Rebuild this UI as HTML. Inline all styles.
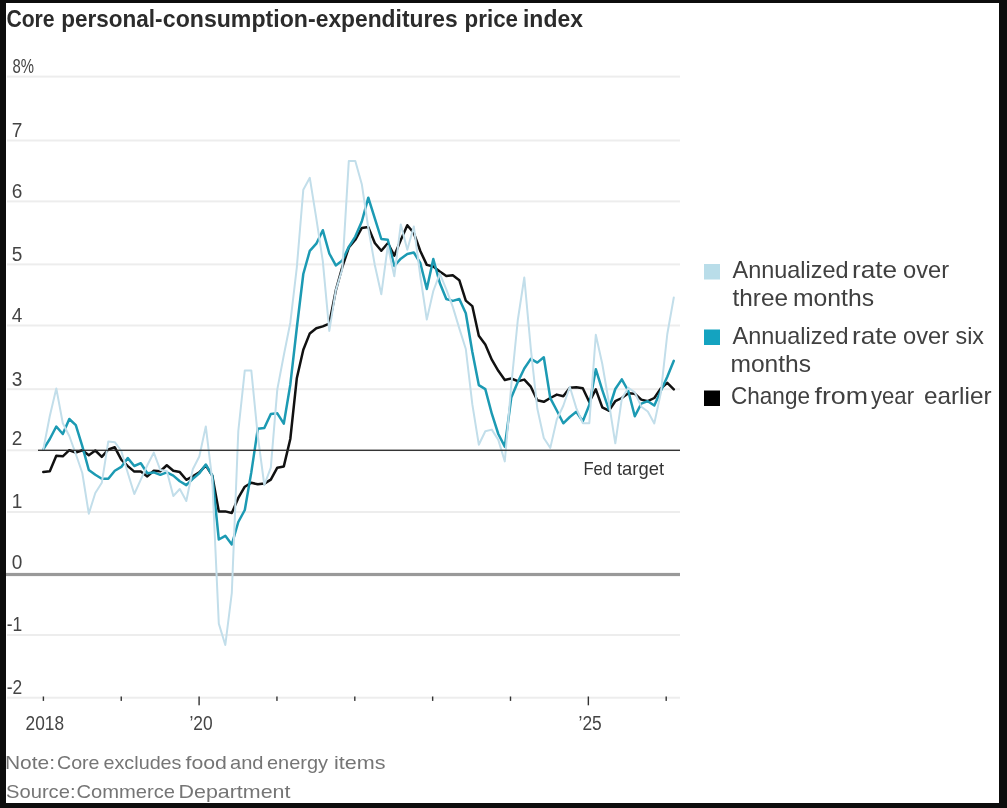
<!DOCTYPE html>
<html lang="en"><head><meta charset="utf-8"><title>Core personal-consumption-expenditures price index</title>
<style>html,body{margin:0;padding:0;background:#0d0d0d;}body{width:1007px;height:808px;overflow:hidden;position:relative;}svg{position:absolute;left:0;top:0;display:block;}text{font-family:"Liberation Sans",sans-serif;}.t{font-weight:bold;font-size:24px;fill:#2b2b2b;}.ax{font-size:20.3px;fill:#444;}.lg{font-size:24px;fill:#404040;}.nt{font-size:19px;fill:#757575;}.fd{font-size:19px;fill:#333;}</style></head><body>
<svg width="1007" height="808" viewBox="0 0 1007 808">
<rect x="0" y="0" width="1007" height="808" fill="#0d0d0d"/>
<rect x="6" y="3" width="993" height="800" fill="#ffffff"/>
<text class="t" y="26.5"><tspan x="6.4" textLength="48.2" lengthAdjust="spacingAndGlyphs">Core</tspan> <tspan x="61.3" textLength="101.3" lengthAdjust="spacingAndGlyphs">personal-</tspan><tspan x="162.8" textLength="152.8" lengthAdjust="spacingAndGlyphs">consumption-</tspan><tspan x="315.7" textLength="142" lengthAdjust="spacingAndGlyphs">expenditures</tspan> <tspan x="464.6" textLength="53.4" lengthAdjust="spacingAndGlyphs">price</tspan> <tspan x="523.0" textLength="59.9" lengthAdjust="spacingAndGlyphs">index</tspan></text>
<rect x="7" y="75.6" width="673" height="2" fill="#ededed"/>
<rect x="7" y="139.5" width="673" height="2" fill="#ededed"/>
<rect x="7" y="200.4" width="673" height="2" fill="#ededed"/>
<rect x="7" y="263.4" width="673" height="2" fill="#ededed"/>
<rect x="7" y="324.5" width="673" height="2" fill="#ededed"/>
<rect x="7" y="388.2" width="673" height="2" fill="#ededed"/>
<rect x="7" y="449.3" width="673" height="2" fill="#ededed"/>
<rect x="7" y="511.0" width="673" height="2" fill="#ededed"/>
<rect x="7" y="634.0" width="673" height="2" fill="#ededed"/>
<rect x="7" y="696.7" width="673" height="2" fill="#ededed"/>
<rect x="6" y="572.9" width="674" height="3.2" fill="#999999"/>
<text class="ax" x="12.4" y="72.9" textLength="21.5" lengthAdjust="spacingAndGlyphs">8%</text>
<text class="ax" x="11.8" y="136.8" textLength="10.6" lengthAdjust="spacingAndGlyphs">7</text>
<text class="ax" x="11.8" y="197.7" textLength="10.6" lengthAdjust="spacingAndGlyphs">6</text>
<text class="ax" x="11.8" y="260.7" textLength="10.6" lengthAdjust="spacingAndGlyphs">5</text>
<text class="ax" x="11.8" y="321.8" textLength="10.6" lengthAdjust="spacingAndGlyphs">4</text>
<text class="ax" x="11.8" y="385.5" textLength="10.6" lengthAdjust="spacingAndGlyphs">3</text>
<text class="ax" x="11.8" y="444.7" textLength="10.6" lengthAdjust="spacingAndGlyphs">2</text>
<text class="ax" x="11.8" y="508.3" textLength="10.6" lengthAdjust="spacingAndGlyphs">1</text>
<text class="ax" x="11.8" y="569.3" textLength="10.6" lengthAdjust="spacingAndGlyphs">0</text>
<text class="ax" x="6.8" y="631.3" textLength="15.5" lengthAdjust="spacingAndGlyphs">-1</text>
<text class="ax" x="6.8" y="694.0" textLength="15.5" lengthAdjust="spacingAndGlyphs">-2</text>
<rect x="42.70" y="696.5" width="1.4" height="4.4" fill="#333"/>
<rect x="120.55" y="696.5" width="1.4" height="4.4" fill="#333"/>
<rect x="198.40" y="696.5" width="1.4" height="8.8" fill="#333"/>
<rect x="276.25" y="696.5" width="1.4" height="4.4" fill="#333"/>
<rect x="354.10" y="696.5" width="1.4" height="4.4" fill="#333"/>
<rect x="431.95" y="696.5" width="1.4" height="4.4" fill="#333"/>
<rect x="509.80" y="696.5" width="1.4" height="4.4" fill="#333"/>
<rect x="587.65" y="696.5" width="1.4" height="8.8" fill="#333"/>
<rect x="665.50" y="696.5" width="1.4" height="4.4" fill="#333"/>
<polyline fill="none" stroke="#111111" stroke-width="2.5" stroke-linejoin="round" stroke-linecap="round" points="43.3,472.1 49.8,471.2 56.3,455.7 62.8,456.3 69.3,450.2 75.8,452.5 82.3,450.2 88.8,455.3 95.3,450.5 101.8,456.8 108.3,449.5 114.8,447.3 121.3,459.7 127.8,466.1 134.3,471.6 140.8,471.6 147.3,476.4 153.8,470.8 160.3,471.2 166.8,465.3 173.3,470.8 179.8,472.1 186.3,479.8 192.8,476.4 199.3,472.4 205.8,465.3 212.3,475.6 218.8,511.4 225.3,511.4 231.8,513.0 238.3,497.9 244.8,486.7 251.3,482.8 257.8,484.3 264.3,483.6 270.8,479.6 277.3,467.7 283.8,466.4 290.3,439.0 296.8,378.3 303.3,349.8 309.8,333.4 316.3,328.2 322.8,326.4 329.3,323.6 335.8,290.4 342.3,267.0 348.8,247.5 355.3,239.8 361.8,227.9 368.3,227.1 374.8,243.0 381.3,250.8 387.8,243.2 394.3,255.7 400.8,240.0 407.3,225.2 413.8,233.0 420.3,251.0 426.8,264.9 433.3,266.5 439.8,271.4 446.3,276.0 452.8,275.3 459.3,280.2 465.8,300.6 472.3,306.1 478.8,335.7 485.3,344.6 491.8,359.7 498.3,370.8 504.8,380.0 511.3,378.5 517.8,381.2 524.3,379.6 530.8,386.7 537.3,400.2 543.8,401.8 550.3,398.0 556.8,394.6 563.3,396.2 569.8,387.8 576.3,387.2 582.8,388.3 589.3,402.0 595.8,389.4 602.3,407.4 608.8,410.7 615.3,401.2 621.8,398.0 628.3,393.2 634.8,393.7 641.3,399.6 647.8,401.2 654.3,398.0 660.8,388.5 667.3,382.9 673.8,389.4"/>
<polyline fill="none" stroke="#1c9ab3" stroke-width="2.5" stroke-linejoin="round" stroke-linecap="round" points="43.3,449.4 49.8,439.0 56.3,426.5 62.8,434.0 69.3,419.0 75.8,425.2 82.3,446.2 88.8,470.0 95.3,474.8 101.8,478.8 108.3,478.8 114.8,470.8 121.3,466.9 127.8,458.1 134.3,466.0 140.8,463.2 147.3,473.2 153.8,472.4 160.3,474.8 166.8,472.4 173.3,475.6 179.8,481.2 186.3,485.1 192.8,478.8 199.3,473.2 205.8,464.5 212.3,475.6 218.8,539.5 225.3,535.8 231.8,544.5 238.3,522.0 244.8,510.0 251.3,472.4 257.8,428.8 264.3,428.0 270.8,414.0 277.3,413.3 283.8,423.6 290.3,384.7 296.8,328.0 303.3,274.0 309.8,250.8 316.3,243.7 322.8,230.2 329.3,253.5 335.8,265.4 342.3,260.5 348.8,246.9 355.3,236.6 361.8,221.5 368.3,197.7 374.8,218.3 381.3,239.0 387.8,239.8 394.3,266.0 400.8,258.7 407.3,254.0 413.8,252.5 420.3,263.0 426.8,289.0 433.3,259.0 439.8,283.0 446.3,299.0 452.8,300.9 459.3,299.0 465.8,313.3 472.3,351.8 478.8,385.1 485.3,389.1 491.8,413.7 498.3,434.0 504.8,446.6 511.3,397.4 517.8,382.0 524.3,368.5 530.8,358.9 537.3,362.6 543.8,357.3 550.3,398.2 556.8,410.5 563.3,423.3 569.8,417.0 576.3,411.8 582.8,421.3 589.3,405.0 595.8,369.2 602.3,390.2 608.8,409.3 615.3,389.0 621.8,379.4 628.3,391.0 634.8,416.3 641.3,403.6 647.8,401.2 654.3,405.5 660.8,391.0 667.3,376.7 673.8,360.8"/>
<polyline fill="none" stroke="#c2deea" stroke-width="2" stroke-linejoin="round" stroke-linecap="round" points="43.3,449.4 49.8,416.0 56.3,388.4 62.8,423.2 69.3,436.0 75.8,454.0 82.3,473.0 88.8,513.7 95.3,493.0 101.8,482.8 108.3,441.4 114.8,442.2 121.3,451.0 127.8,473.0 134.3,494.0 140.8,479.6 147.3,465.3 153.8,452.6 160.3,470.0 166.8,471.0 173.3,496.0 179.8,489.0 186.3,501.0 192.8,469.3 199.3,456.5 205.8,426.4 212.3,480.4 218.8,623.6 225.3,645.0 231.8,593.0 238.3,431.0 244.8,370.4 251.3,370.4 257.8,436.0 264.3,485.0 270.8,467.7 277.3,389.4 283.8,355.3 290.3,322.7 296.8,267.6 303.3,189.7 309.8,177.8 316.3,218.3 322.8,261.2 329.3,330.9 335.8,290.4 342.3,269.0 348.8,161.1 355.3,161.1 361.8,184.2 368.3,228.0 374.8,265.0 381.3,294.3 387.8,246.0 394.3,276.3 400.8,224.4 407.3,249.7 413.8,226.4 420.3,276.0 426.8,319.6 433.3,291.0 439.8,273.6 446.3,289.4 452.8,306.9 459.3,328.4 465.8,349.0 472.3,404.2 478.8,444.7 485.3,431.2 491.8,429.6 498.3,439.9 504.8,461.4 511.3,385.0 517.8,320.0 524.3,277.5 530.8,348.6 537.3,408.5 543.8,438.0 550.3,447.9 556.8,419.5 563.3,405.7 569.8,386.7 576.3,408.1 582.8,423.2 589.3,423.2 595.8,334.8 602.3,364.0 608.8,402.0 615.3,443.3 621.8,398.8 628.3,387.7 634.8,392.4 641.3,406.7 647.8,411.5 654.3,423.4 660.8,393.0 667.3,334.0 673.8,297.5"/>
<rect x="38" y="449.65" width="642" height="1.3" fill="#2a2a2a"/>
<text class="ax" x="25.6" y="729.6" textLength="38.4" lengthAdjust="spacingAndGlyphs">2018</text>
<text class="ax" x="189.4" y="729.6" textLength="23.2" lengthAdjust="spacingAndGlyphs">’20</text>
<text class="ax" x="578.6" y="729.6" textLength="23.2" lengthAdjust="spacingAndGlyphs">’25</text>
<rect x="704" y="264" width="16" height="15.5" fill="#b9dde9"/>
<rect x="704" y="329.5" width="16" height="15.5" fill="#14a3c0"/>
<rect x="704" y="390.5" width="16" height="15.5" fill="#000"/>
<text class="lg" y="278.3"><tspan x="732.5" textLength="116.0" lengthAdjust="spacingAndGlyphs">Annualized</tspan> <tspan x="851.93" textLength="45.11" lengthAdjust="spacingAndGlyphs">rate</tspan> <tspan x="903.0" textLength="46.02" lengthAdjust="spacingAndGlyphs">over</tspan></text>
<text class="lg" y="306.4"><tspan x="732.49" textLength="55.52" lengthAdjust="spacingAndGlyphs">three</tspan> <tspan x="792.98" textLength="81.03" lengthAdjust="spacingAndGlyphs">months</tspan></text>
<text class="lg" y="343.7"><tspan x="732.5" textLength="116.0" lengthAdjust="spacingAndGlyphs">Annualized</tspan> <tspan x="851.93" textLength="45.11" lengthAdjust="spacingAndGlyphs">rate</tspan> <tspan x="903.0" textLength="46.02" lengthAdjust="spacingAndGlyphs">over</tspan> <tspan x="955.5" textLength="28.48" lengthAdjust="spacingAndGlyphs">six</tspan></text>
<text class="lg" y="372.3"><tspan x="730.48" textLength="80.54" lengthAdjust="spacingAndGlyphs">months</tspan></text>
<text class="lg" y="404.3"><tspan x="731.0" textLength="79.0" lengthAdjust="spacingAndGlyphs">Change</tspan> <tspan x="814.49" textLength="53.51" lengthAdjust="spacingAndGlyphs">from</tspan> <tspan x="871.01" textLength="43.0" lengthAdjust="spacingAndGlyphs">year</tspan> <tspan x="924.0" textLength="67.49" lengthAdjust="spacingAndGlyphs">earlier</tspan></text>
<text class="nt" y="769"><tspan x="4.94" textLength="50.12" lengthAdjust="spacingAndGlyphs">Note:</tspan> <tspan x="57.0" textLength="42.51" lengthAdjust="spacingAndGlyphs">Core</tspan> <tspan x="103.5" textLength="78.0" lengthAdjust="spacingAndGlyphs">excludes</tspan> <tspan x="185.5" textLength="41.48" lengthAdjust="spacingAndGlyphs">food</tspan> <tspan x="229.99" textLength="33.53" lengthAdjust="spacingAndGlyphs">and</tspan> <tspan x="266.99" textLength="61.01" lengthAdjust="spacingAndGlyphs">energy</tspan> <tspan x="333.99" textLength="51.52" lengthAdjust="spacingAndGlyphs">items</tspan></text>
<text class="nt" y="798.2"><tspan x="5.99" textLength="69.53" lengthAdjust="spacingAndGlyphs">Source:</tspan> <tspan x="76.49" textLength="98.51" lengthAdjust="spacingAndGlyphs">Commerce</tspan> <tspan x="178.49" textLength="112.02" lengthAdjust="spacingAndGlyphs">Department</tspan></text>
<text class="fd" y="474.7"><tspan x="583.47" textLength="28.56" lengthAdjust="spacingAndGlyphs">Fed</tspan> <tspan x="617.0" textLength="47.0" lengthAdjust="spacingAndGlyphs">target</tspan></text>
</svg></body></html>
